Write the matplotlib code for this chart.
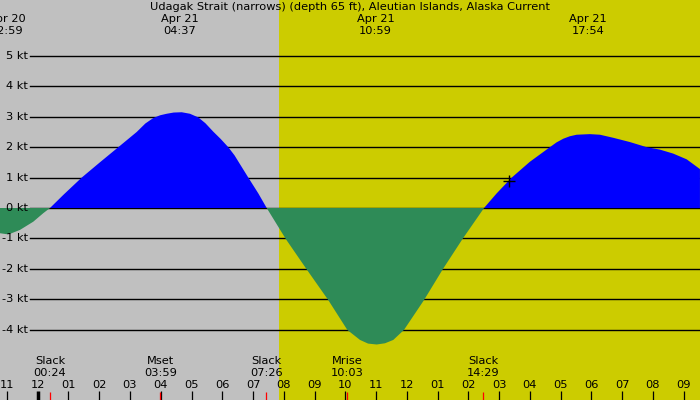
import matplotlib
matplotlib.use('Agg')
import matplotlib.pyplot as plt
from matplotlib.transforms import blended_transform_factory

# ---- data (hours relative to Apr 21 00:00) ----
hours = [-1.226, -1.02, -0.90, -0.575, -0.143, 0.182, 0.40, 0.832, 1.43, 2.02,
         2.62, 3.218, 3.50, 3.758, 3.98, 4.194, 4.42, 4.681, 4.95, 5.221,
         5.45, 5.709, 5.95, 6.196, 6.40, 6.577, 6.847, 7.172, 7.445, 8.072,
         8.745, 9.447, 10.065, 10.478, 10.74, 11.021, 11.29, 11.56, 11.908, 12.558,
         13.166, 13.804, 14.51, 14.92, 15.41, 16.0, 16.65, 16.87, 17.09, 17.3,
         17.52, 17.95, 18.28, 18.71, 19.25, 19.80, 20.23, 20.66, 21.10, 21.53]
speed_kt = [-0.83, -0.86, -0.85, -0.72, -0.45, -0.17, 0.0, 0.43, 1.0, 1.5,
            2.0, 2.5, 2.78, 2.96, 3.05, 3.1, 3.14, 3.15, 3.1, 2.98,
            2.79, 2.51, 2.27, 2.0, 1.73, 1.44, 1.0, 0.48, 0.0, -1.03,
            -2.02, -3.03, -4.01, -4.34, -4.46, -4.49, -4.45, -4.34, -4.01, -3.03,
            -2.02, -1.03, 0.0, 0.48, 1.0, 1.52, 2.0, 2.16, 2.28, 2.36,
            2.41, 2.43, 2.41, 2.31, 2.17, 2.0, 1.92, 1.79, 1.6, 1.28]

marker_time = 15.32
marker_speed = 0.89

levels = [5, 4, 3, 2, 1, 0, -1, -2, -3, -4]
level_labels = ['5 kt', '4 kt', '3 kt', '2 kt', '1 kt', '0 kt', '-1 kt', '-2 kt', '-3 kt', '-4 kt']

hour_ticks = list(range(-1, 22))
hour_labels = ['11', '12', '01', '02', '03', '04', '05', '06', '07', '08', '09', '10', '11',
               '12', '01', '02', '03', '04', '05', '06', '07', '08', '09']

extreme_times = [-1.017, 4.617, 10.983, 17.9]
extreme_dates = ['Apr 20', 'Apr 21', 'Apr 21', 'Apr 21']
extreme_clock = ['22:59', '04:37', '10:59', '17:54']

event_times = [0.4, 3.983, 7.433, 10.05, 14.483]
event_names = ['Slack', 'Mset', 'Slack', 'Mrise', 'Slack']
event_clock = ['00:24', '03:59', '07:26', '10:03', '14:29']

sunrise = 7.84

title = 'Udagak Strait (narrows) (depth 65 ft), Aleutian Islands, Alaska Current'

# ---- layout ----
W, H = 700, 400
PX_H = 30.76
X_MID = 37.7
PX_KT = 30.4
Y_ZERO = 208
FS = 8.2

fig = plt.figure(figsize=(7, 4), dpi=100)
ax = fig.add_axes([0, 0, 1, 1])
x0 = -X_MID / PX_H
x1 = (W - X_MID) / PX_H
ax.set_xlim(x0, x1)
ax.set_ylim((Y_ZERO - H) / PX_KT, Y_ZERO / PX_KT)
ax.axis('off')

gray = '#C0C0C0'
yellow = '#CCCC00'
ax.axvspan(x0, sunrise, color=gray, zorder=0, lw=0)
ax.axvspan(sunrise, x1, color=yellow, zorder=0, lw=0)

for lv, lab in zip(levels, level_labels):
    ax.axhline(lv, xmin=30 / W, xmax=1, color='black', lw=1.0, zorder=1)
    ax.text(x0 + 28 / PX_H, lv, lab, ha='right', va='center', fontsize=FS, zorder=5)

ax.fill_between(hours, speed_kt, 0, where=[v >= 0 for v in speed_kt], interpolate=True,
                color='#0000FF', lw=0, zorder=2)
ax.fill_between(hours, speed_kt, 0, where=[v <= 0 for v in speed_kt], interpolate=True,
                color='#2E8B57', lw=0, zorder=2)

ax.plot([marker_time], [marker_speed], marker='+', color='black', ms=8, mew=1.0,
        linestyle='none', zorder=3)

tr = blended_transform_factory(ax.transData, ax.transAxes)

def ypx(p):
    return 1 - p / H

fig.text(0.5, ypx(7.5), title, ha='center', va='center', fontsize=FS)

for t, d, c in zip(extreme_times, extreme_dates, extreme_clock):
    ax.text(t, ypx(19.5), d, transform=tr, ha='center', va='center', fontsize=FS, zorder=5)
    ax.text(t, ypx(31), c, transform=tr, ha='center', va='center', fontsize=FS, zorder=5)

for t, n, c in zip(event_times, event_names, event_clock):
    ax.text(t, ypx(361.5), n, transform=tr, ha='center', va='center', fontsize=FS, zorder=5)
    ax.text(t, ypx(373), c, transform=tr, ha='center', va='center', fontsize=FS, zorder=5)

for t, lab in zip(hour_ticks, hour_labels):
    ax.text(t, ypx(385.5), lab, transform=tr, ha='center', va='center', fontsize=FS, zorder=5)
    ax.plot([t, t], [ypx(391), ypx(400)], transform=tr, color='black',
            lw=2.5 if t % 24 == 0 else 0.9, zorder=4, solid_capstyle='butt')

for t in event_times:
    ax.plot([t, t], [ypx(391.5), ypx(400)], transform=tr, color='red', lw=0.9,
            zorder=4, solid_capstyle='butt')

fig.savefig('out.png', dpi=100)
